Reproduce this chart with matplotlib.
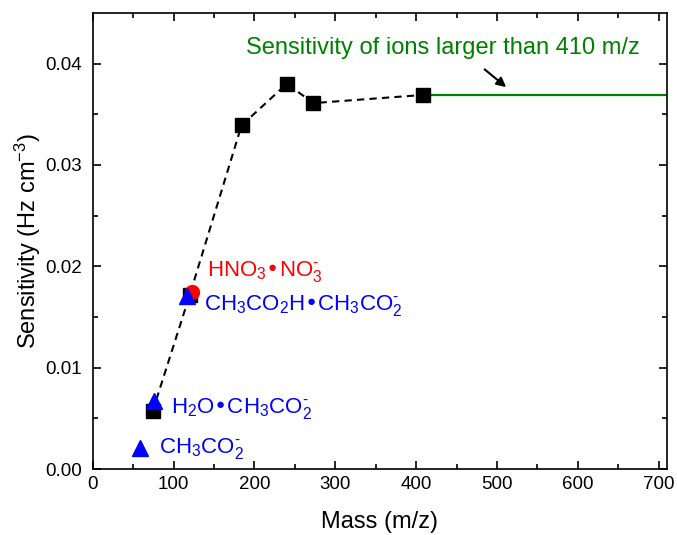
import matplotlib
matplotlib.use("Agg")
import matplotlib.pyplot as plt

plt.rcParams['font.family'] = ['Liberation Sans', 'DejaVu Sans']
plt.rcParams['mathtext.default'] = 'regular'
plt.rcParams['font.size'] = 13

# black squares (measured sensitivity, dashed)
sq_mass = [74, 120, 184, 240, 273, 408]
sq_sens = [0.0057, 0.0172, 0.0339, 0.0380, 0.0361, 0.0369]

# acetate cluster ions (blue triangles)
tri_mass = [58, 76, 117]
tri_sens = [0.0021, 0.0067, 0.0171]

# nitrate dimer (red circle)
red_mass = [123]
red_sens = [0.0175]

# constant sensitivity beyond 410
green_mass = [408, 710]
green_sens = [0.0369, 0.0369]

fig = plt.figure(figsize=(6.77, 5.35), dpi=100)
ax = fig.add_axes([0.137, 0.123, 0.848, 0.853])

ax.plot(green_mass, green_sens, color='#008000', lw=1.6, zorder=2)
ax.plot(sq_mass, sq_sens, color='black', ls=(0, (3.5, 2.5)), lw=1.5,
        marker='s', ms=10, zorder=3)
ax.plot(red_mass, red_sens, 'o', color='red', ms=10, zorder=4)
ax.plot(tri_mass, tri_sens, '^', color='blue', ms=12, zorder=5)

neg = '^{\u2010}'
ax.text(82, 0.0020, 'CH$_3$CO$_2' + neg + '$', color='blue', fontsize=16, va='center')
ax.text(97, 0.0060, 'H$_2$O\u2022CH$_3$CO$_2' + neg + '$', color='blue', fontsize=16, va='center')
ax.text(138, 0.0161, 'CH$_3$CO$_2$H\u2022CH$_3$CO$_2' + neg + '$', color='blue', fontsize=16,
        va='center')
ax.text(141, 0.0195, 'HNO$_3$\u2022NO$_3' + neg + '$', color='red', fontsize=16, va='center')

ax.text(190, 0.0415, 'Sensitivity of ions larger than 410 m/z', color='#008000',
        fontsize=17, va='center')
ax.annotate('', xy=(514, 0.0375), xytext=(482, 0.0396),
            arrowprops=dict(arrowstyle='-|>', color='black', lw=1.5,
                            mutation_scale=14))

ax.set_xlim(0, 710)
ax.set_ylim(0, 0.045)
ax.set_xticks(range(0, 701, 100))
ax.set_xticks(range(50, 701, 100), minor=True)
ax.set_yticks([0, 0.01, 0.02, 0.03, 0.04])
ax.set_yticks([0.005, 0.015, 0.025, 0.035], minor=True)
ax.yaxis.set_major_formatter(matplotlib.ticker.FormatStrFormatter('%.2f'))
ax.tick_params(which='both', direction='in', top=True, right=True, width=1.2)
ax.tick_params(which='major', length=6, labelsize=13.5, pad=5)
ax.tick_params(axis='y', which='major', pad=8)
ax.tick_params(which='minor', length=3.5)
for s in ax.spines.values():
    s.set_linewidth(1.2)

ax.set_xlabel('Mass (m/z)', fontsize=17, labelpad=13)
ax.set_ylabel('Sensitivity (Hz cm$^{-3}$)', fontsize=17, labelpad=1)

fig.savefig('out.png', dpi=100)
